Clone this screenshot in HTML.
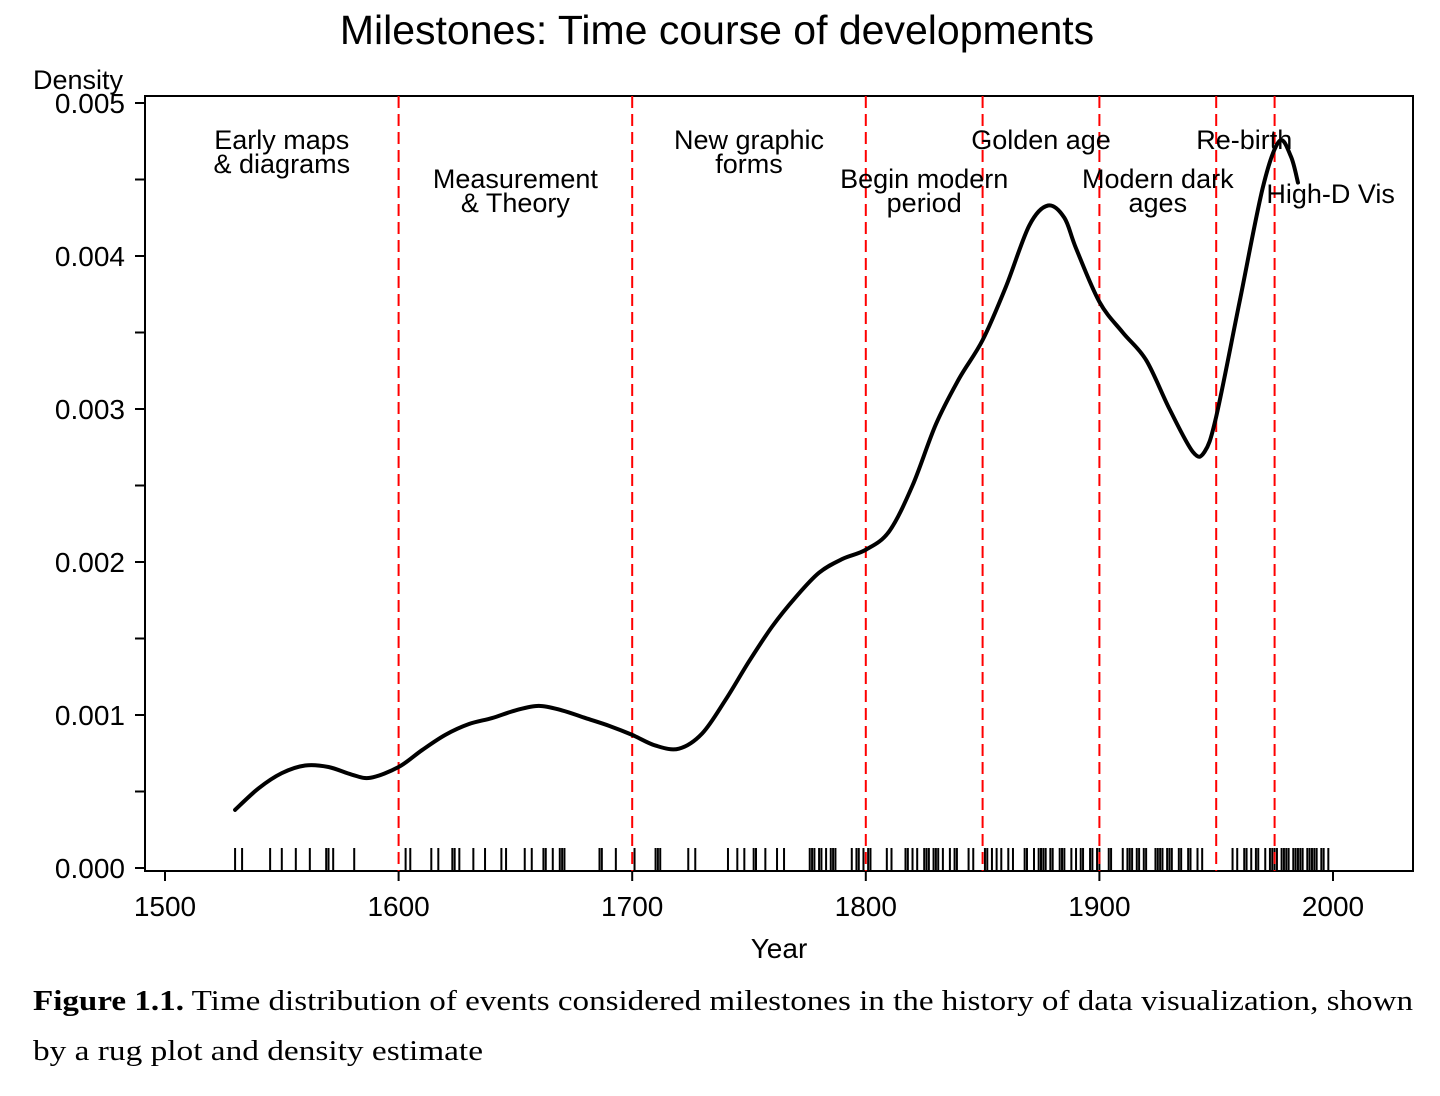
<!DOCTYPE html>
<html><head><meta charset="utf-8"><style>
html,body{margin:0;padding:0;background:#fff;}
svg text{font-family:"Liberation Sans",Arial,sans-serif;}
</style></head><body>
<svg id="chart" width="1440" height="1091" viewBox="0 0 1440 1091" xmlns="http://www.w3.org/2000/svg">
<text x="717" y="44" font-size="41" text-anchor="middle">Milestones: Time course of developments</text>
<text x="33" y="89" font-size="27">Density</text>
<text x="779" y="958" font-size="28" text-anchor="middle">Year</text>
<g id="plot"></g>
<text x="33" y="1010" font-size="29" textLength="1380" lengthAdjust="spacingAndGlyphs" style="font-family:'Liberation Serif',serif"><tspan font-weight="bold">Figure 1.1.</tspan> Time distribution of events considered milestones in the history of data visualization, shown</text>
<text x="33" y="1060" font-size="29" textLength="450" lengthAdjust="spacingAndGlyphs" style="font-family:'Liberation Serif',serif">by a rug plot and density estimate</text>
</svg>
<script>
const densityYears=[1530,1540,1550,1560,1570,1580,1588,1600,1610,1620,1630,1640,1650,1660,1670,1680,1690,1700,1710,1720,1730,1740,1750,1760,1770,1780,1790,1800,1810,1820,1830,1840,1850,1860,1870,1878,1885,1890,1900,1910,1920,1930,1940,1945,1950,1960,1970,1977,1982,1985];
const densityValues=[0.00038,0.00052,0.00062,0.00067,0.00066,0.00061,0.00059,0.00066,0.00077,0.00087,0.00094,0.00098,0.00103,0.00106,0.00103,0.00098,0.00093,0.00087,0.00080,0.00078,0.00088,0.00110,0.00135,0.00158,0.00177,0.00193,0.00202,0.00208,0.00220,0.00250,0.00290,0.00320,0.00345,0.00380,0.00420,0.00433,0.00425,0.00405,0.00370,0.00350,0.00332,0.00300,0.00272,0.00272,0.00295,0.00370,0.00445,0.00475,0.00465,0.00448];
const rugYears=[1530,1533,1545,1550,1556,1562,1569,1570,1572,1581,1603,1605,1614,1617,1623,1624,1626,1632,1637,1644,1646,1654,1657,1662,1663,1666,1669,1670,1671,1686,1687,1693,1701,1710,1711,1712,1724,1727,1741,1745,1748,1752,1753,1757,1762,1765,1776,1777,1778,1780,1781,1783,1785,1786,1787,1794,1796,1797,1799,1801,1802,1809,1811,1817,1818,1820,1822,1825,1826,1827,1829,1830,1831,1833,1836,1838,1839,1844,1846,1851,1852,1854,1856,1858,1861,1863,1868,1869,1872,1874,1875,1876,1877,1879,1880,1883,1884,1885,1888,1890,1892,1893,1896,1897,1899,1900,1904,1905,1910,1912,1913,1914,1916,1917,1919,1920,1924,1925,1926,1927,1929,1930,1931,1934,1935,1938,1939,1942,1944,1957,1959,1962,1963,1965,1967,1968,1971,1973,1974,1975,1976,1978,1979,1980,1981,1983,1984,1985,1986,1987,1989,1990,1991,1992,1993,1995,1996,1998];
const periodBreaks=[1600,1700,1800,1850,1900,1950,1975];
const periodLabels=[["Early maps","& diagrams"],["Measurement","& Theory"],["New graphic","forms"],["Begin modern","period"],["Golden age"],["Modern dark","ages"],["Re-birth"],["High-D Vis"]];
const periodLabelYears=[1550,1650,1750,1825,1875,1925,1962,1999];
const periodLabelRows=[0,1,0,1,0,1,0,2];
const xTicks=[1500,1600,1700,1800,1900,2000];
const yTicks=[0,0.001,0.002,0.003,0.004,0.005];
const yMinorTicks=[0.0005,0.0015,0.0025,0.0035,0.0045];

const NS="http://www.w3.org/2000/svg";
const X0=145,X1=1413,Y0=96,Y1=871;
const xs=y=>165+(y-1500)*(1168/500);
const ys=d=>868-d*153000;
const g=document.getElementById('plot');
function mk(tag,attrs,parent){const e=document.createElementNS(NS,tag);for(const k in attrs)e.setAttribute(k,attrs[k]);(parent||g).appendChild(e);return e;}

const frame=mk('rect',{x:X0,y:Y0,width:X1-X0,height:Y1-Y0,fill:'none',stroke:'#000','stroke-width':2});



yTicks.forEach(t=>{
  const l=mk('line',{x1:X0-10,x2:X0,y1:ys(t),y2:ys(t),stroke:'#000','stroke-width':2});
  
  
  const tx=mk('text',{x:X0-20,y:ys(t)+10,'font-size':28,'text-anchor':'end'});
  
  
  tx.textContent=t.toFixed(3);
});
yMinorTicks.forEach(t=>{
  const l=mk('line',{x1:X0-10,x2:X0,y1:ys(t),y2:ys(t),stroke:'#000','stroke-width':2});
  
  
});
xTicks.forEach(t=>{
  const l=mk('line',{x1:xs(t),x2:xs(t),y1:Y1,y2:Y1+10,stroke:'#000','stroke-width':2});
  
  
  const tx=mk('text',{x:xs(t),y:916,'font-size':28,'text-anchor':'middle'});
  
  
  tx.textContent=t;
});
rugYears.forEach(r=>{
  const l=mk('line',{x1:xs(r),x2:xs(r),y1:848,y2:Y1,stroke:'#000','stroke-width':2});
  
  
});
periodBreaks.forEach(b=>{
  const l=mk('line',{x1:xs(b),x2:xs(b),y1:Y0,y2:Y1,stroke:'#ff0000','stroke-width':2,'stroke-dasharray':'12,6'});
  
  
});
const pts=densityYears.map((y,i)=>[xs(y),ys(densityValues[i])]);
let d='M'+pts[0][0]+','+pts[0][1];
for(let i=0;i<pts.length-1;i++){
  const p0=pts[Math.max(i-1,0)],p1=pts[i],p2=pts[i+1],p3=pts[Math.min(i+2,pts.length-1)];
  const c1=[p1[0]+(p2[0]-p0[0])/6,p1[1]+(p2[1]-p0[1])/6];
  const c2=[p2[0]-(p3[0]-p1[0])/6,p2[1]-(p3[1]-p1[1])/6];
  d+=` C${c1[0]},${c1[1]} ${c2[0]},${c2[1]} ${p2[0]},${p2[1]}`;
}
const curve=mk('path',{d:d,fill:'none',stroke:'#000','stroke-width':4,'stroke-linejoin':'round','stroke-linecap':'round'});



const rowBase=[149,188,203];
periodLabels.forEach((lines,i)=>{
  const tx=mk('text',{x:xs(periodLabelYears[i]),y:rowBase[periodLabelRows[i]],'font-size':27,'text-anchor':'middle'});
  
  
  lines.forEach((s,j)=>{const t=mk('tspan',{x:xs(periodLabelYears[i]),dy:j?24:0},tx);t.textContent=s;});
});
</script>
</body></html>
